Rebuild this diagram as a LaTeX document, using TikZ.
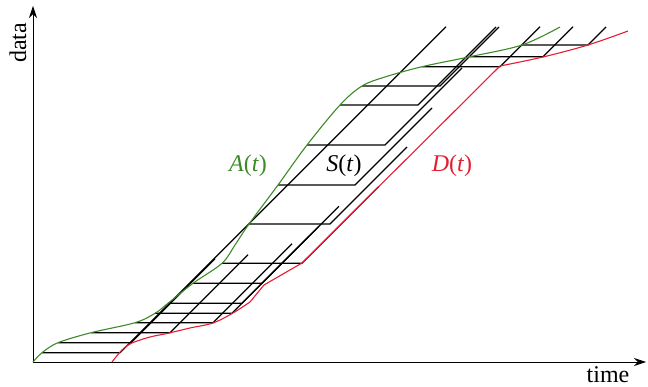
\documentclass[tikz,border=0pt]{standalone}
\usepackage{fontspec}
\setmainfont{Liberation Serif}
\usetikzlibrary{arrows.meta}
\definecolor{agreen}{RGB}{60,138,40}
\definecolor{dred}{RGB}{228,30,50}
\begin{document}
\begin{tikzpicture}[x=1pt,y=-1pt,
  axisline/.style={line width=0.9pt,-{Stealth[length=12pt,width=8pt]}},
  svc/.style={line width=1.2pt,black,line join=miter},
  arr/.style={line width=1.1pt,agreen},
  dep/.style={line width=1.1pt,dred},
  lbl/.style={font=\fontsize{24}{28}\selectfont,inner sep=0pt}]
\useasboundingbox (0,0) rectangle (648,387);
% axes
\coordinate (O) at (33,362);
\coordinate (xend) at (646,362);
\coordinate (yend) at (33,6);
\draw[axisline] (O) -- (xend);
\draw[axisline] (O) -- (yend);
\node[lbl,rotate=90] (data) at (18,43) {data};
\node[lbl,anchor=base] (time) at (608,382) {time};
% service hooks: horizontal latency then slope
\foreach \y/\xl/\xr/\L in {352.7/42/120/326, 342.7/58/131/84, 332.7/91/170/78,
  322.7/135/213/79, 313.3/155/232/77, 303.3/168/242/77, 283.3/193/262/77,
  263.3/222/302/77, 224/249/330/77, 185/278/355/77, 145/307/385/77,
  105/340/418/78, 86/362/440/59, 66.7/422/500/40, 56.7/470/543/30, 45/522/588/18}
  {\draw[svc] (\xl,\y) -- (\xr,\y) -- ++(\L,-\L);}
% arrival curve
\draw[arr] plot[smooth,tension=0.55] coordinates {(33,362) (42,352.7) (58,342.7)
  (91,332.7) (135,322.7) (155,313.3) (168,303.3) (193,283.3) (222,263.3) (235,245)
  (249,224) (278,185) (307,145) (340,105) (362,86) (385,77) (422,66.7)
  (470,56.7) (522,45) (560,27)};
% departure curve
\draw[dep] plot[smooth,tension=0.55] coordinates {(112,362) (122,350) (132,343)
  (150,337) (167,333.5) (190,328) (213,323) (233,313) (250,302)};
\draw[dep] (250,302) -- (264,285) -- (302,263) -- (500,66);
\draw[dep] plot[smooth,tension=0.55] coordinates {(500,66) (543,57) (588,45) (628,31)};
% labels
\node[lbl,text=agreen] (A) at (248,166) {\textit{A}(\textit{t})};
\node[lbl] (S) at (344,166) {\textit{S}(\textit{t})};
\node[lbl,text=dred] (D) at (452,166) {\textit{D}(\textit{t})};
\end{tikzpicture}
\end{document}
